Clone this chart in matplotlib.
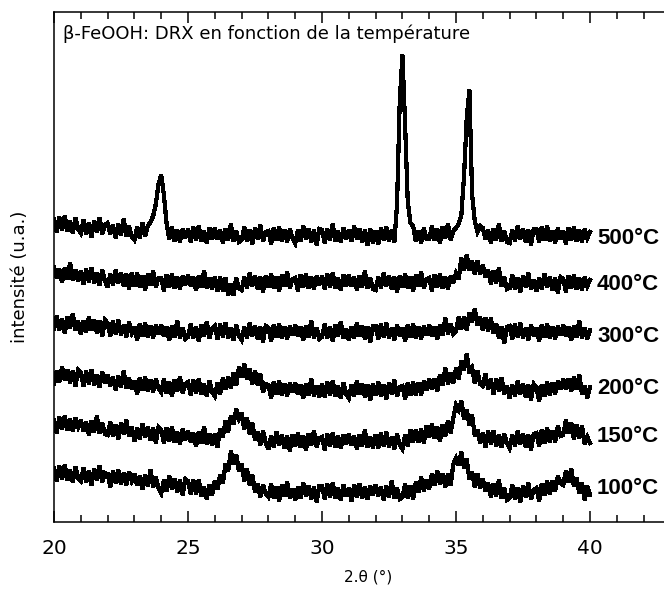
import numpy as np
import matplotlib
matplotlib.use("Agg")
import matplotlib.pyplot as plt
from matplotlib.ticker import MultipleLocator

# 2-theta grid (degrees), step 0.1 from 20 to 40
two_theta = np.round(np.arange(200, 401) / 10.0, 1)

temperatures = ["100°C", "150°C", "200°C", "300°C", "400°C", "500°C"]

# intensities (arbitrary units, stacked traces as drawn)
i_500 = [
    303, 290, 305, 292, 306, 291, 301, 289, 304, 293,
    289, 302, 288, 299, 285, 301, 290, 304, 288, 297,
    299, 288, 297, 284, 298, 287, 303, 286, 296, 285,
    282, 295, 284, 299, 286, 296, 300, 306, 318, 338,
    347, 327, 299, 283, 295, 281, 292, 280, 293, 284,
    293, 280, 295, 282, 296, 281, 291, 279, 294, 283,
    294, 283, 292, 279, 293, 282, 298, 281, 291, 280,
    282, 295, 281, 292, 278, 294, 283, 297, 281, 290,
    291, 278, 294, 282, 295, 281, 292, 280, 293, 284,
    279, 292, 281, 296, 283, 293, 280, 292, 277, 293,
    292, 279, 293, 282, 298, 281, 291, 280, 294, 283,
    292, 281, 296, 283, 293, 280, 292, 277, 293, 279,
    291, 278, 294, 282, 295, 281, 292, 280, 318, 420,
    467, 398, 320, 299, 296, 281, 291, 279, 294, 283,
    283, 296, 282, 293, 279, 295, 284, 298, 282, 291,
    294, 298, 307, 346, 404, 432, 328, 301, 290, 296,
    294, 283, 292, 279, 293, 282, 298, 281, 291, 280,
    279, 292, 281, 296, 283, 293, 280, 292, 277, 293,
    293, 280, 295, 282, 296, 281, 291, 279, 294, 283,
    291, 278, 294, 282, 295, 281, 292, 280, 293, 284,
    290,
]
i_400 = [
    255, 244, 253, 240, 254, 243, 259, 242, 252, 241,
    251, 238, 253, 240, 254, 239, 249, 237, 252, 241,
    235, 248, 237, 252, 239, 249, 236, 248, 233, 249,
    236, 249, 235, 246, 232, 248, 237, 251, 235, 244,
    244, 231, 247, 235, 248, 234, 245, 233, 246, 237,
    247, 236, 245, 232, 246, 235, 251, 234, 244, 233,
    245, 231, 245, 231, 244, 227, 238, 227, 244, 234,
    232, 245, 234, 249, 236, 246, 233, 245, 230, 246,
    235, 248, 234, 245, 231, 247, 236, 250, 234, 243,
    244, 231, 247, 235, 248, 234, 245, 233, 246, 237,
    246, 233, 248, 235, 249, 234, 244, 232, 247, 236,
    247, 236, 245, 232, 246, 235, 251, 234, 244, 233,
    232, 245, 234, 249, 236, 246, 233, 245, 230, 246,
    235, 248, 234, 245, 231, 247, 236, 250, 234, 243,
    244, 231, 247, 235, 248, 234, 245, 233, 246, 239,
    249, 243, 264, 252, 267, 252, 261, 248, 261, 248,
    257, 245, 252, 238, 251, 239, 254, 236, 245, 233,
    234, 247, 233, 244, 230, 246, 235, 249, 233, 242,
    231, 244, 233, 248, 235, 245, 232, 244, 229, 245,
    243, 230, 246, 234, 247, 233, 244, 232, 245, 236,
    242,
]
i_300 = [
    193, 206, 192, 203, 189, 205, 194, 208, 192, 201,
    188, 201, 190, 205, 192, 202, 189, 201, 186, 202,
    199, 186, 201, 188, 202, 187, 197, 185, 200, 189,
    195, 182, 198, 186, 199, 185, 196, 184, 197, 188,
    197, 186, 195, 182, 196, 185, 201, 184, 194, 183,
    185, 198, 184, 195, 181, 197, 186, 200, 184, 193,
    196, 183, 198, 185, 199, 184, 194, 182, 197, 186,
    182, 195, 184, 199, 186, 196, 183, 195, 180, 196,
    194, 181, 197, 185, 198, 184, 195, 183, 196, 187,
    197, 186, 195, 182, 196, 185, 201, 184, 194, 183,
    185, 198, 184, 195, 181, 197, 186, 200, 184, 193,
    182, 195, 184, 199, 186, 196, 183, 195, 180, 196,
    196, 183, 198, 185, 199, 184, 194, 182, 197, 186,
    194, 181, 197, 185, 198, 184, 195, 183, 196, 187,
    197, 186, 195, 183, 197, 187, 204, 188, 198, 188,
    191, 205, 193, 205, 192, 209, 200, 213, 197, 205,
    192, 204, 191, 204, 189, 198, 184, 195, 179, 195,
    196, 183, 198, 185, 199, 184, 194, 182, 197, 186,
    194, 181, 197, 185, 198, 184, 195, 183, 196, 187,
    197, 186, 195, 182, 196, 185, 201, 184, 194, 183,
    192,
]
i_200 = [
    138, 151, 140, 155, 142, 152, 139, 151, 136, 152,
    149, 136, 151, 138, 152, 137, 147, 135, 150, 139,
    147, 136, 145, 132, 146, 135, 151, 134, 144, 133,
    141, 128, 144, 132, 145, 131, 142, 130, 143, 134,
    130, 143, 129, 140, 126, 142, 131, 145, 129, 138,
    140, 127, 142, 129, 143, 128, 138, 126, 141, 130,
    126, 139, 128, 144, 133, 145, 134, 149, 137, 155,
    145, 158, 143, 153, 138, 151, 137, 148, 130, 138,
    137, 124, 140, 128, 141, 127, 138, 126, 139, 130,
    139, 128, 137, 124, 138, 127, 143, 126, 136, 125,
    138, 125, 140, 127, 141, 126, 136, 124, 139, 128,
    124, 137, 126, 141, 128, 138, 125, 137, 122, 138,
    127, 140, 126, 137, 123, 139, 128, 142, 126, 135,
    136, 123, 139, 127, 140, 127, 139, 127, 141, 132,
    143, 133, 143, 131, 147, 137, 154, 138, 149, 139,
    154, 143, 161, 152, 168, 149, 154, 139, 151, 138,
    136, 148, 133, 143, 128, 143, 131, 144, 128, 136,
    124, 137, 126, 141, 128, 138, 125, 137, 122, 138,
    135, 121, 137, 126, 140, 127, 139, 128, 141, 133,
    143, 133, 143, 131, 145, 133, 147, 128, 136, 124,
    135,
]
i_150 = [
    102, 89, 105, 93, 106, 92, 103, 91, 104, 95,
    102, 91, 100, 87, 101, 90, 106, 89, 99, 88,
    87, 100, 86, 97, 83, 99, 88, 102, 86, 95,
    81, 94, 83, 98, 85, 95, 82, 94, 79, 95,
    92, 79, 94, 81, 95, 80, 90, 78, 93, 82,
    91, 80, 89, 76, 90, 79, 95, 78, 88, 77,
    88, 75, 93, 85, 101, 90, 106, 98, 113, 103,
    109, 93, 104, 88, 99, 82, 90, 77, 91, 79,
    73, 86, 75, 90, 77, 87, 74, 86, 71, 87,
    76, 89, 75, 86, 72, 88, 77, 91, 75, 84,
    85, 72, 88, 76, 89, 75, 86, 74, 87, 78,
    88, 77, 86, 73, 87, 76, 92, 75, 85, 74,
    87, 74, 89, 76, 90, 75, 85, 73, 88, 77,
    73, 87, 76, 92, 80, 92, 80, 93, 79, 96,
    85, 98, 84, 95, 81, 97, 86, 101, 89, 104,
    117, 112, 121, 103, 112, 97, 107, 86, 92, 79,
    89, 75, 91, 78, 91, 76, 87, 75, 88, 79,
    74, 87, 76, 91, 78, 88, 75, 87, 72, 88,
    89, 76, 92, 79, 94, 80, 91, 80, 96, 86,
    87, 102, 89, 99, 83, 97, 84, 96, 78, 85,
    79,
]
i_100 = [
    54, 41, 56, 43, 57, 42, 52, 40, 55, 44,
    41, 54, 40, 51, 37, 53, 42, 56, 40, 49,
    48, 35, 51, 39, 52, 38, 49, 37, 50, 41,
    48, 37, 46, 33, 47, 36, 52, 35, 45, 34,
    29, 42, 31, 46, 33, 43, 30, 42, 27, 43,
    41, 28, 42, 28, 42, 26, 35, 23, 37, 27,
    41, 33, 47, 39, 58, 51, 71, 58, 67, 51,
    58, 41, 53, 37, 47, 30, 38, 25, 37, 28,
    25, 38, 24, 35, 21, 37, 26, 40, 24, 33,
    22, 35, 24, 39, 26, 36, 23, 35, 20, 36,
    36, 23, 38, 25, 39, 24, 34, 22, 37, 26,
    34, 21, 37, 25, 38, 24, 35, 23, 36, 27,
    37, 26, 35, 22, 36, 25, 41, 24, 34, 23,
    25, 38, 24, 36, 23, 40, 30, 45, 31, 42,
    33, 48, 37, 51, 38, 48, 35, 48, 37, 58,
    64, 57, 70, 54, 63, 43, 50, 35, 48, 34,
    43, 31, 39, 25, 38, 26, 42, 24, 34, 22,
    24, 37, 23, 34, 20, 36, 25, 39, 23, 32,
    34, 21, 38, 27, 41, 28, 41, 31, 46, 39,
    37, 51, 40, 53, 36, 44, 29, 39, 22, 36,
    27,
]
series = [i_100, i_150, i_200, i_300, i_400, i_500]
label_levels = [34, 85, 133, 185, 237, 284]

W, H = 664, 589
fig = plt.figure(figsize=(W / 100, H / 100), dpi=100)
ax_left, ax_right, ax_top, ax_bottom = 54, 664, 12, 522
ax = fig.add_axes([ax_left / W, (H - ax_bottom) / H,
                   (ax_right - ax_left) / W, (ax_bottom - ax_top) / H])

for vals in series:
    ax.plot(two_theta, vals, color="black", lw=2.3, solid_joinstyle="miter",
            antialiased=False)

for t, lvl in zip(temperatures, label_levels):
    ax.text(40.26, lvl, t, fontsize=16, fontweight="bold",
            family="Liberation Sans", va="center", ha="left", clip_on=False)

ax.set_xlim(20, 20 + (ax_right - ax_left) / 26.8)
ax.set_ylim(0, ax_bottom - ax_top)
ax.spines["right"].set_visible(False)
for s in ["left", "top", "bottom"]:
    ax.spines[s].set_linewidth(1.1)

ax.xaxis.set_major_locator(MultipleLocator(5))
ax.xaxis.set_minor_locator(MultipleLocator(1))
ax.set_xticks([20, 25, 30, 35, 40])
ax.set_xticklabels(["20", "25", "30", "35", "40"])
ax.tick_params(axis="x", which="major", direction="in", length=8, width=1.1,
               top=True, labelsize=14.5, pad=12)
ax.tick_params(axis="x", which="minor", direction="in", length=5, width=1.1, top=True)
ax.set_yticks([])

ax.text((63 - ax_left) / (ax_right - ax_left), (ax_bottom - 39) / (ax_bottom - ax_top),
        "β-FeOOH: DRX en fonction de la température", transform=ax.transAxes,
        fontsize=13, va="baseline", ha="left")

fig.text(368 / W, 1 - 577 / H, "2.θ (°)", fontsize=11, ha="center", va="center")
fig.text(20 / W, 1 - 277 / H, "intensité (u.a.)", fontsize=13, rotation=90,
         ha="center", va="center")

fig.savefig("out.png", dpi=100)
